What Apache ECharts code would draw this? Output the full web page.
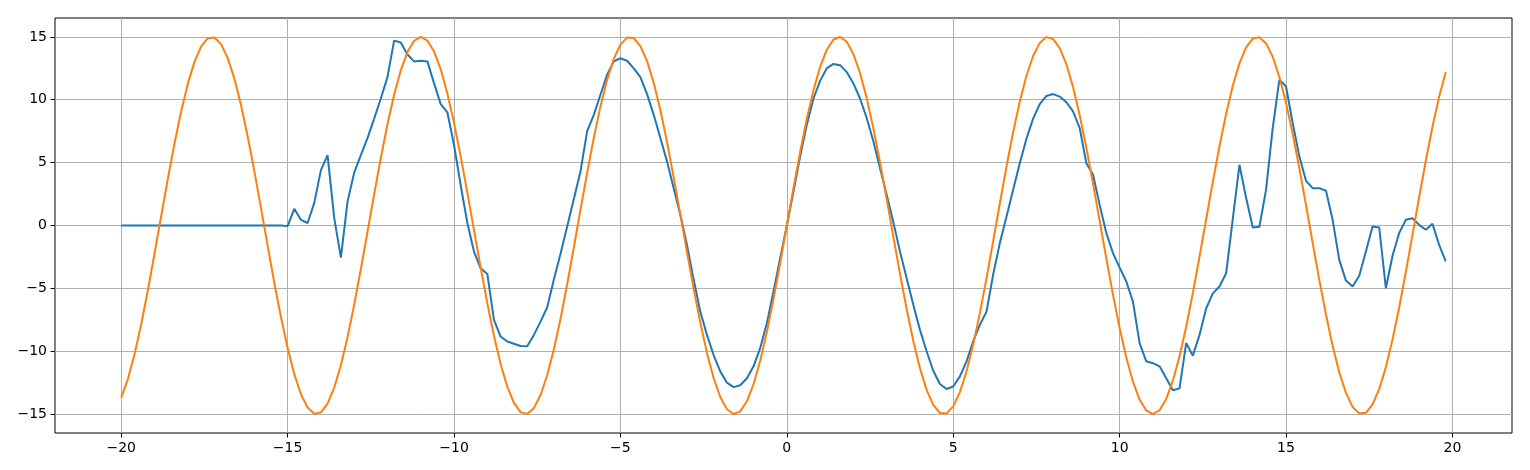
<!DOCTYPE html>
<html lang="en" style="height: 100%">
<head>
    <meta charset="utf-8">
</head>
<body style="height: 100%; margin: 0; background: #fff">
<div id="container" style="width: 1530px; height: 470px"></div>
<script type="text/javascript" src="https://cdn.jsdelivr.net/npm/echarts@6/dist/echarts.min.js"></script>
<script type="text/javascript">

    // x positions (step 0.2)
    const xs = [
        -20, -19.8, -19.6, -19.4, -19.2, -19, -18.8, -18.6, -18.4, -18.2,
        -18, -17.8, -17.6, -17.4, -17.2, -17, -16.8, -16.6, -16.4, -16.2,
        -16, -15.8, -15.6, -15.4, -15.2, -15, -14.8, -14.6, -14.4, -14.2,
        -14, -13.8, -13.6, -13.4, -13.2, -13, -12.8, -12.6, -12.4, -12.2,
        -12, -11.8, -11.6, -11.4, -11.2, -11, -10.8, -10.6, -10.4, -10.2,
        -10, -9.8, -9.6, -9.4, -9.2, -9, -8.8, -8.6, -8.4, -8.2,
        -8, -7.8, -7.6, -7.4, -7.2, -7, -6.8, -6.6, -6.4, -6.2,
        -6, -5.8, -5.6, -5.4, -5.2, -5, -4.8, -4.6, -4.4, -4.2,
        -4, -3.8, -3.6, -3.4, -3.2, -3, -2.8, -2.6, -2.4, -2.2,
        -2, -1.8, -1.6, -1.4, -1.2, -1, -0.8, -0.6, -0.4, -0.2,
        0, 0.2, 0.4, 0.6, 0.8, 1, 1.2, 1.4, 1.6, 1.8,
        2, 2.2, 2.4, 2.6, 2.8, 3, 3.2, 3.4, 3.6, 3.8,
        4, 4.2, 4.4, 4.6, 4.8, 5, 5.2, 5.4, 5.6, 5.8,
        6, 6.2, 6.4, 6.6, 6.8, 7, 7.2, 7.4, 7.6, 7.8,
        8, 8.2, 8.4, 8.6, 8.8, 9, 9.2, 9.4, 9.6, 9.8,
        10, 10.2, 10.4, 10.6, 10.8, 11, 11.2, 11.4, 11.6, 11.8,
        12, 12.2, 12.4, 12.6, 12.8, 13, 13.2, 13.4, 13.6, 13.8,
        14, 14.2, 14.4, 14.6, 14.8, 15, 15.2, 15.4, 15.6, 15.8,
        16, 16.2, 16.4, 16.6, 16.8, 17, 17.2, 17.4, 17.6, 17.8,
        18, 18.2, 18.4, 18.6, 18.8, 19, 19.2, 19.4, 19.6, 19.8
    ];

    // blue line
    const filtered = [
        0, 0, 0, 0, 0, 0, 0, 0, 0, 0,
        0, 0, 0, 0, 0, 0, 0, 0, 0, 0,
        0, 0, 0, 0, 0, -0.05, 1.33, 0.45, 0.2, 1.8,
        4.4, 5.6, 0.6, -2.55, 1.9, 4.2, 5.6, 6.95, 8.5, 10.1,
        11.8, 14.7, 14.55, 13.6, 13.05, 13.1, 13.05, 11.3, 9.65, 9.0,
        6.4, 3.2, 0.2, -2.07, -3.4, -3.85, -7.5, -8.83, -9.23, -9.4,
        -9.58, -9.6, -8.7, -7.64, -6.5, -4.3, -2.25, -0.08, 2.1, 4.3,
        7.5, 8.8, 10.4, 12.0, 13.05, 13.3, 13.1, 12.5, 11.8, 10.45,
        8.8, 6.95, 5.1, 2.97, 0.85, -1.54, -4.3, -6.85, -8.7, -10.3,
        -11.6, -12.5, -12.85, -12.7, -12.15, -11.2, -9.75, -7.77, -5.25, -2.6,
        0, 2.7, 5.5, 8.0, 10.1, 11.5, 12.5, 12.85, 12.75, 12.2,
        11.3, 10.1, 8.55, 6.7, 4.55, 2.45, 0.27, -2.07, -4.2, -6.3,
        -8.3, -10.0, -11.55, -12.6, -13.0, -12.8, -12.0, -10.8, -9.2, -7.9,
        -6.85, -3.9, -1.4, 0.7, 2.85, 4.95, 6.9, 8.5, 9.65, 10.3,
        10.45, 10.25, 9.8, 9.07, 7.75, 4.95, 4.05, 1.64, -0.6, -2.2,
        -3.35, -4.45, -6.05, -9.35, -10.8, -10.95, -11.2, -12.15, -13.1, -12.95,
        -9.35, -10.35, -8.7, -6.6, -5.4, -4.85, -3.8, 0.5, 4.83, 2.2,
        -0.16, -0.1, 2.85, 7.75, 11.6, 11.05, 8.15, 5.5, 3.55, 2.97,
        2.97, 2.76, 0.45, -2.73, -4.38, -4.85, -4.0, -2.07, -0.08, -0.16,
        -4.99, -2.4, -0.6, 0.45, 0.58, 0.05, -0.34, 0.13, -1.54, -2.86
    ];

    // orange line
    const wave = [
        -13.69, -12.21, -10.23, -7.85, -5.15, -2.25, 0.74, 3.70, 6.52, 9.07,
        11.26, 13.01, 14.23, 14.89, 14.95, 14.42, 13.31, 11.68, 9.57, 7.08,
        4.32, 1.38, -1.62, -4.55, -7.30, -9.75, -11.82, -13.42, -14.48, -14.97,
        -14.86, -14.16, -12.89, -11.11, -8.88, -6.30, -3.47, -0.50, 2.48, 5.37,
        8.05, 10.40, 12.34, 13.79, 14.69, 15.00, 14.71, 13.84, 12.42, 10.50,
        8.16, 5.50, 2.61, -0.37, -3.34, -6.18, -8.77, -11.02, -12.82, -14.11,
        -14.84, -14.98, -14.52, -13.48, -11.91, -9.85, -7.41, -4.67, -1.75, 1.25,
        4.19, 6.97, 9.47, 11.59, 13.25, 14.38, 14.94, 14.91, 14.27, 13.07,
        11.35, 9.18, 6.64, 3.83, 0.88, -2.12, -5.02, -7.73, -10.13, -12.13,
        -13.64, -14.61, -14.99, -14.78, -13.98, -12.62, -10.76, -8.47, -5.84, -2.98,
        0, 2.98, 5.84, 8.47, 10.76, 12.62, 13.98, 14.78, 14.99, 14.61,
        13.64, 12.13, 10.13, 7.73, 5.02, 2.12, -0.88, -3.83, -6.64, -9.18,
        -11.35, -13.07, -14.27, -14.91, -14.94, -14.38, -13.25, -11.59, -9.47, -6.97,
        -4.19, -1.25, 1.75, 4.67, 7.41, 9.85, 11.91, 13.48, 14.52, 14.98,
        14.84, 14.11, 12.82, 11.02, 8.77, 6.18, 3.34, 0.37, -2.61, -5.50,
        -8.16, -10.50, -12.42, -13.84, -14.71, -15.00, -14.69, -13.79, -12.34, -10.40,
        -8.05, -5.37, -2.48, 0.50, 3.47, 6.30, 8.88, 11.11, 12.89, 14.16,
        14.86, 14.97, 14.48, 13.42, 11.82, 9.75, 7.30, 4.55, 1.62, -1.38,
        -4.32, -7.08, -9.57, -11.68, -13.31, -14.42, -14.95, -14.89, -14.23, -13.01,
        -11.26, -9.07, -6.52, -3.70, -0.74, 2.25, 5.15, 7.85, 10.23, 12.21
    ];

    const xTicks = [-20, -15, -10, -5, 0, 5, 10, 15, 20];
    const yTicks = [-15, -10, -5, 0, 5, 10, 15];

    const dom = document.getElementById('container');
    const myChart = echarts.init(dom, null, {renderer: 'canvas'});

    function minus(v) {
        return String(v).replace('-', '\u2212');
    }

    const tickStyle = {show: true, inside: false, length: 4.5, lineStyle: {color: '#000', width: 1}};
    const gridLines = {show: true, lineStyle: {color: '#b0b0b0', width: 1}};
    const labelFont = {color: '#000', fontFamily: 'DejaVu Sans', fontSize: 14};

    const option = {
        animation: false,
        backgroundColor: '#fff',
        grid: {
            left: 55, right: 18, top: 18, bottom: 37,
            show: true, borderColor: '#000', borderWidth: 1,
            outerBoundsMode: 'none'
        },
        xAxis: {
            type: 'value',
            min: -21.99,
            max: 21.79,
            axisLine: {show: false, onZero: false},
            axisTick: Object.assign({customValues: xTicks}, tickStyle),
            axisLabel: Object.assign({customValues: xTicks, margin: 8, formatter: minus}, labelFont),
            splitLine: gridLines
        },
        yAxis: {
            type: 'value',
            min: -16.5,
            max: 16.5,
            axisLine: {show: false, onZero: false},
            axisTick: Object.assign({customValues: yTicks}, tickStyle),
            axisLabel: Object.assign({customValues: yTicks, margin: 8, formatter: minus}, labelFont),
            splitLine: gridLines
        },
        series: [
            {
                type: 'line',
                data: xs.map((x, i) => [x, filtered[i]]),
                showSymbol: false,
                symbol: 'none',
                lineStyle: {color: '#1f77b4', width: 2},
                itemStyle: {color: '#1f77b4'}
            },
            {
                type: 'line',
                data: xs.map((x, i) => [x, wave[i]]),
                showSymbol: false,
                symbol: 'none',
                lineStyle: {color: '#ff7f0e', width: 2},
                itemStyle: {color: '#ff7f0e'}
            }
        ]
    };

    myChart.setOption(option);
    window.addEventListener('resize', myChart.resize);

</script>
</body>
</html>
